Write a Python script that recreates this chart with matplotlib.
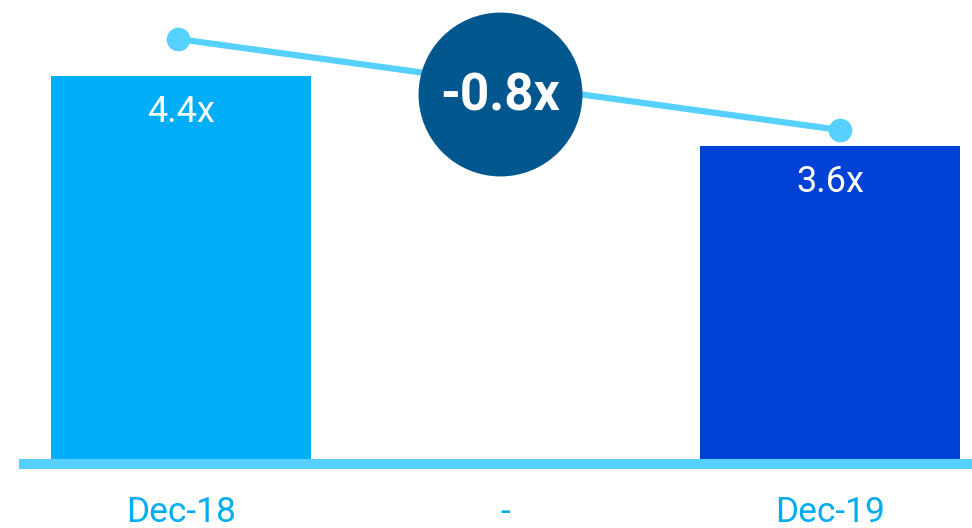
import matplotlib
matplotlib.use("Agg")
import matplotlib.pyplot as plt

# Leverage ratio at two year-ends, with an empty middle slot for the change badge
categories = ["Dec-18", "-", "Dec-19"]
bar_positions = [0, 2]
bar_values = [4.4, 3.6]
bar_labels = ["4.4x", "3.6x"]
line_values = [4.4, 3.6]

change = bar_values[1] - bar_values[0]
change_label = f"{change:.1f}x"

BAR_COLORS = ["#00AEF7", "#0041D6"]
LINE_COLOR = "#55D0FF"
BADGE_COLOR = "#02578E"
TICK_COLOR = "#00AEEF"
plt.rcParams["font.family"] = ["Roboto", "DejaVu Sans"]

W, H, DPI = 972, 528, 100
fig = plt.figure(figsize=(W / DPI, H / DPI), dpi=DPI)
fig.patch.set_facecolor("white")

# Axes rectangle: from the baseline up to the top edge, from x=19 px to the right edge
left_px, base_px = 19, 459
rect = [left_px / W, (H - base_px) / H, 1 - left_px / W, base_px / H]

ax = fig.add_axes(rect)
ax.set_xlim(-0.499, 2.4376)
ax.set_ylim(0, base_px / 87.0)
ax.bar(bar_positions, bar_values, width=0.8, color=BAR_COLORS, zorder=2)

for x, v, lab in zip(bar_positions, bar_values, bar_labels):
    ax.annotate(lab, xy=(x, v), xytext=(0, -26), textcoords="offset points",
                ha="center", va="center", color="white", fontsize=26,
                zorder=5)

ax.set_xticks(range(len(categories)))
ax.set_xticklabels(categories)
ax.tick_params(axis="x", length=0, pad=23, labelsize=25.5, labelcolor=TICK_COLOR)
ax.set_yticks([])
for side in ["top", "left", "right"]:
    ax.spines[side].set_visible(False)
ax.spines["bottom"].set_color(LINE_COLOR)
ax.spines["bottom"].set_linewidth(7.2)
ax.spines["bottom"].set_capstyle("butt")
ax.spines["bottom"].set_position(("outward", 3.6))
ax.patch.set_alpha(0)

# Trend line on its own scale, drawn over the bars
ax2 = fig.add_axes(rect, label="trend")
ax2.set_xlim(-0.4804, 2.3988)
ax2.set_ylim(4.4 - 420 / 113.75, 4.4 + 39 / 113.75)
ax2.plot(bar_positions, line_values, color=LINE_COLOR, lw=4.5,
         marker="o", markersize=16, solid_capstyle="round", zorder=3)
ax2.axis("off")
ax2.patch.set_alpha(0)

# Change badge in the middle slot
ax3 = fig.add_axes(rect, label="badge")
ax3.set_xlim(ax.get_xlim())
ax3.set_ylim(ax.get_ylim())
ax3.axis("off")
ax3.patch.set_alpha(0)
badge_y = 4.195
ax3.scatter([0.9835], [badge_y], s=118 ** 2, color=BADGE_COLOR, zorder=6,
            linewidths=0)
ax3.text(0.9835, badge_y - 0.03, change_label, ha="center", va="center",
         color="white", fontsize=37, fontweight="bold", zorder=7)

fig.savefig("out.png", dpi=DPI, facecolor="white")
